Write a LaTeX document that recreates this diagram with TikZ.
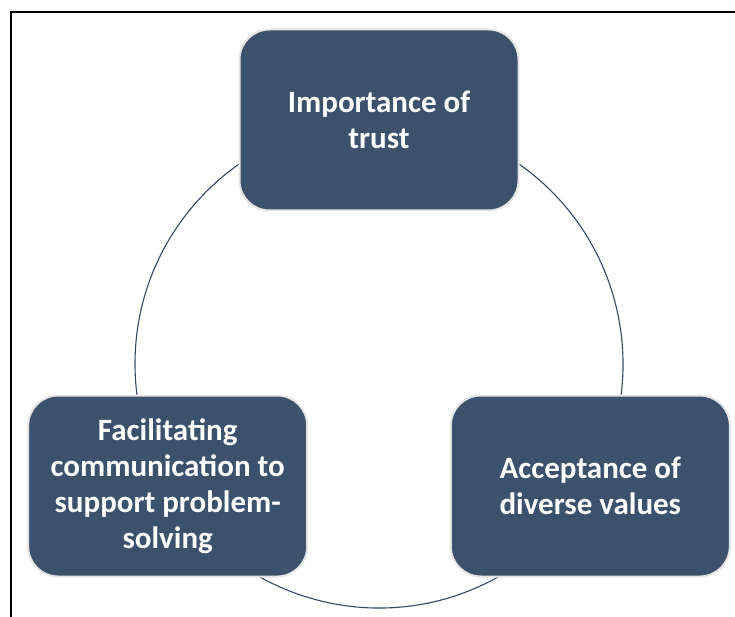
\documentclass[tikz,border=0pt]{standalone}
\usepackage{fontspec}
\setmainfont{Carlito}
\usepackage{tikz}
\usetikzlibrary{backgrounds}
\definecolor{boxblue}{RGB}{60,81,107}
\definecolor{ringblue}{RGB}{52,72,98}

\begin{document}
\begin{tikzpicture}[x=1pt,y=-1pt,semithick]
\tikzstyle{topic}=[draw=black!10,line width=2pt,fill=boxblue,text=white,rounded corners=30pt,
  minimum width=279pt,minimum height=181pt,align=center,font=\fontsize{31}{36}\selectfont\bfseries]
\tikzstyle{ring}=[ringblue,line width=1.1pt]
\useasboundingbox (0,0) rectangle (735,617);
\draw[black,line width=1.3pt] (736,12) -- (11,12) -- (11,618);
\node[topic] (trust) at (379,120) {Importance of\\trust};
\node[topic] (values) at (590.3,486) {Acceptance of\\diverse values};
\node[topic] (comm) at (167.7,486) {Facilitating\\communication to\\support problem-\\solving};
\begin{scope}[on background layer]
\draw[ring] (trust.center) arc[start angle=270,end angle=150,radius=244];
\draw[ring] (comm.center) arc[start angle=150,end angle=30,radius=244];
\draw[ring] (values.center) arc[start angle=30,end angle=-90,radius=244];
\end{scope}
\end{tikzpicture}
\end{document}
